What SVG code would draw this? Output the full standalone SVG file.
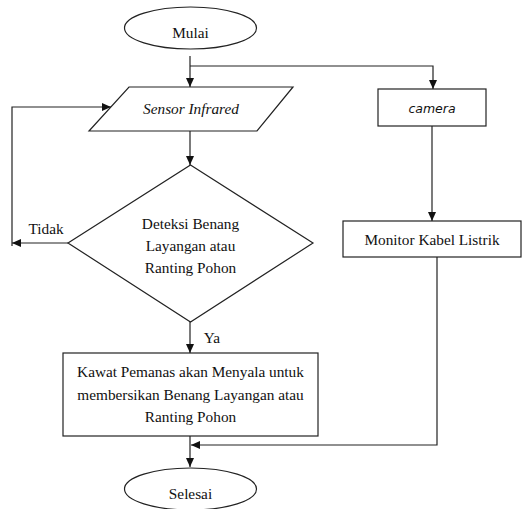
<svg xmlns="http://www.w3.org/2000/svg" width="522" height="509" viewBox="0 0 522 509">
<defs>
<marker id="ah" markerUnits="userSpaceOnUse" markerWidth="10" markerHeight="8" refX="9" refY="4" orient="auto">
<path d="M0,0 L9,4 L0,8 Z" fill="#111"/>
</marker>
</defs>
<style>
.s{fill:#fff;stroke:#222;stroke-width:1.2}
.c{fill:none;stroke:#222;stroke-width:1.2;marker-end:url(#ah)}
text{font-family:'Liberation Serif','Times New Roman',serif;font-size:15.3px;fill:#111;text-anchor:middle}
.i{font-style:italic}
.cam{font-family:'DejaVu Sans',sans-serif;font-size:12.5px;font-style:italic}
</style>
<rect width="522" height="509" fill="#fff"/>
<g id="connectors">
<path class="c" d="M190,56 V87"/>
<path class="c" d="M190,66 H433 V89"/>
<path class="c" d="M190,131 V165"/>
<path class="c" d="M68,243 H12"/>
<path class="c" d="M12,246 V107 H111"/>
<path class="c" d="M432,126 V221"/>
<path class="c" d="M190,322 V353"/>
<path class="c" d="M437,257 V445 H191"/>
<path class="c" d="M190,436 V467"/>
<text x="46" y="234">Tidak</text>
<text x="212" y="343">Ya</text>
</g>
<g id="mulai">
<ellipse class="s" cx="190.5" cy="28" rx="66" ry="21"/>
<text x="190.5" y="38" font-size="16.5">Mulai</text>
</g>
<g id="sensor">
<polygon class="s" points="129,87 293,87 257,131 89,131"/>
<text class="i" x="191" y="114" font-size="15.8">Sensor Infrared</text>
</g>
<g id="camera">
<rect class="s" x="378" y="89" width="108" height="37"/>
<text class="cam" x="432" y="113">camera</text>
</g>
<g id="deteksi">
<polygon class="s" points="190.5,165 313,243 190.5,322 68,243"/>
<text x="190.5" y="229">Deteksi Benang</text>
<text x="190.5" y="251">Layangan atau</text>
<text x="190.5" y="273">Ranting Pohon</text>
</g>
<g id="monitor">
<rect class="s" x="343" y="221" width="178" height="36"/>
<text x="432" y="245">Monitor Kabel Listrik</text>
</g>
<g id="kawat">
<rect class="s" x="63" y="353" width="255" height="83"/>
<text x="190.5" y="377">Kawat Pemanas akan Menyala untuk</text>
<text x="190.5" y="400">membersikan Benang Layangan atau</text>
<text x="190.5" y="422">Ranting Pohon</text>
</g>
<g id="selesai">
<ellipse class="s" cx="190.5" cy="489" rx="66" ry="21"/>
<text x="190.5" y="499" font-size="16.5">Selesai</text>
</g>
</svg>
